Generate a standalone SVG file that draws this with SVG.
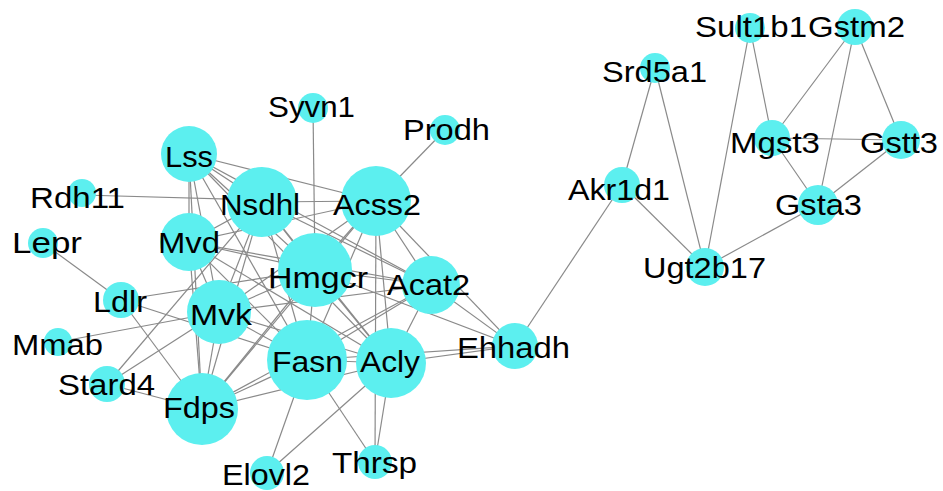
<svg xmlns="http://www.w3.org/2000/svg" width="943" height="491" viewBox="0 0 943 491">
  <style>
    .edge { stroke: #8a8a8a; stroke-width: 1.2; fill: none; }
    .node circle { fill: #5cefef; }
    .node text { font-family: "Liberation Sans", Arial, sans-serif; font-size: 30px; fill: #000; }
  </style>
  <rect width="943" height="491" fill="#ffffff"/>

  <!-- interactions -->
  <g id="edges" class="edge">
    <!-- cholesterol / lipid core -->
    <line x1="189" y1="154" x2="262" y2="202"/>
    <line x1="189" y1="154" x2="376" y2="201"/>
    <line x1="189" y1="154" x2="189" y2="242"/>
    <line x1="189" y1="154" x2="315" y2="270"/>
    <line x1="189" y1="154" x2="431" y2="285"/>
    <line x1="189" y1="154" x2="219" y2="312"/>
    <line x1="189" y1="154" x2="307" y2="360"/>
    <line x1="189" y1="154" x2="391" y2="363"/>
    <line x1="189" y1="154" x2="202" y2="409"/>
    <line x1="262" y1="202" x2="376" y2="201"/>
    <line x1="262" y1="202" x2="189" y2="242"/>
    <line x1="262" y1="202" x2="315" y2="270"/>
    <line x1="262" y1="202" x2="431" y2="285"/>
    <line x1="262" y1="202" x2="219" y2="312"/>
    <line x1="262" y1="202" x2="307" y2="360"/>
    <line x1="262" y1="202" x2="391" y2="363"/>
    <line x1="262" y1="202" x2="202" y2="409"/>
    <line x1="376" y1="201" x2="189" y2="242"/>
    <line x1="376" y1="201" x2="315" y2="270"/>
    <line x1="376" y1="201" x2="431" y2="285"/>
    <line x1="376" y1="201" x2="219" y2="312"/>
    <line x1="376" y1="201" x2="307" y2="360"/>
    <line x1="376" y1="201" x2="391" y2="363"/>
    <line x1="376" y1="201" x2="202" y2="409"/>
    <line x1="189" y1="242" x2="315" y2="270"/>
    <line x1="189" y1="242" x2="431" y2="285"/>
    <line x1="189" y1="242" x2="219" y2="312"/>
    <line x1="189" y1="242" x2="307" y2="360"/>
    <line x1="189" y1="242" x2="391" y2="363"/>
    <line x1="189" y1="242" x2="202" y2="409"/>
    <line x1="315" y1="270" x2="431" y2="285"/>
    <line x1="315" y1="270" x2="219" y2="312"/>
    <line x1="315" y1="270" x2="307" y2="360"/>
    <line x1="315" y1="270" x2="391" y2="363"/>
    <line x1="315" y1="270" x2="202" y2="409"/>
    <line x1="431" y1="285" x2="219" y2="312"/>
    <line x1="431" y1="285" x2="307" y2="360"/>
    <line x1="431" y1="285" x2="391" y2="363"/>
    <line x1="431" y1="285" x2="202" y2="409"/>
    <line x1="219" y1="312" x2="307" y2="360"/>
    <line x1="219" y1="312" x2="391" y2="363"/>
    <line x1="219" y1="312" x2="202" y2="409"/>
    <line x1="307" y1="360" x2="391" y2="363"/>
    <line x1="307" y1="360" x2="202" y2="409"/>
    <line x1="391" y1="363" x2="202" y2="409"/>
    <!-- peripheral partners -->
    <line x1="313" y1="108" x2="315" y2="270"/>
    <line x1="445" y1="130" x2="376" y2="201"/>
    <line x1="82" y1="195" x2="262" y2="200"/>
    <line x1="43" y1="243" x2="121" y2="300"/>
    <line x1="121" y1="300" x2="315" y2="270"/>
    <line x1="121" y1="300" x2="307" y2="360"/>
    <line x1="121" y1="300" x2="202" y2="409"/>
    <line x1="58" y1="342" x2="219" y2="312"/>
    <line x1="107" y1="384" x2="219" y2="312"/>
    <line x1="107" y1="384" x2="262" y2="202"/>
    <line x1="107" y1="384" x2="202" y2="409"/>
    <line x1="267" y1="473" x2="307" y2="360"/>
    <line x1="267" y1="473" x2="391" y2="363"/>
    <line x1="375" y1="462" x2="307" y2="360"/>
    <line x1="375" y1="462" x2="391" y2="363"/>
    <line x1="375" y1="462" x2="376" y2="201"/>
    <line x1="515" y1="346" x2="391" y2="363"/>
    <line x1="515" y1="346" x2="307" y2="360"/>
    <line x1="515" y1="346" x2="431" y2="285"/>
    <line x1="515" y1="346" x2="315" y2="270"/>
    <line x1="515" y1="346" x2="376" y2="201"/>
    <line x1="515" y1="346" x2="622" y2="185"/>
    <!-- detoxification cluster -->
    <line x1="655" y1="68" x2="622" y2="185"/>
    <line x1="655" y1="68" x2="705" y2="267"/>
    <line x1="622" y1="185" x2="705" y2="267"/>
    <line x1="750" y1="28" x2="705" y2="267"/>
    <line x1="750" y1="28" x2="772" y2="138"/>
    <line x1="855" y1="27" x2="772" y2="138"/>
    <line x1="855" y1="27" x2="818" y2="205"/>
    <line x1="855" y1="27" x2="901" y2="140"/>
    <line x1="772" y1="138" x2="901" y2="140"/>
    <line x1="772" y1="138" x2="818" y2="205"/>
    <line x1="901" y1="140" x2="818" y2="205"/>
    <line x1="818" y1="205" x2="705" y2="267"/>
  </g>

  <!-- genes -->
  <g id="n-Syvn1" class="node"><circle cx="313" cy="108" r="15"/><text x="268" y="117" textLength="87" lengthAdjust="spacingAndGlyphs">Syvn1</text></g>
  <g id="n-Prodh" class="node"><circle cx="445" cy="130" r="15"/><text x="403" y="140" textLength="87" lengthAdjust="spacingAndGlyphs">Prodh</text></g>
  <g id="n-Lss" class="node"><circle cx="189" cy="154" r="28"/><text x="165" y="167" textLength="48" lengthAdjust="spacingAndGlyphs">Lss</text></g>
  <g id="n-Rdh11" class="node"><circle cx="82" cy="193" r="14"/><text x="30" y="208" textLength="95" lengthAdjust="spacingAndGlyphs">Rdh11</text></g>
  <g id="n-Nsdhl" class="node"><circle cx="262" cy="202" r="35"/><text x="220" y="215" textLength="80" lengthAdjust="spacingAndGlyphs">Nsdhl</text></g>
  <g id="n-Acss2" class="node"><circle cx="376" cy="201" r="35"/><text x="333" y="215" textLength="88" lengthAdjust="spacingAndGlyphs">Acss2</text></g>
  <g id="n-Lepr" class="node"><circle cx="43" cy="243" r="15"/><text x="12" y="253" textLength="70" lengthAdjust="spacingAndGlyphs">Lepr</text></g>
  <g id="n-Mvd" class="node"><circle cx="189" cy="242" r="29"/><text x="158" y="253" textLength="62" lengthAdjust="spacingAndGlyphs">Mvd</text></g>
  <g id="n-Hmgcr" class="node"><circle cx="315" cy="270" r="37"/><text x="268" y="288" textLength="100" lengthAdjust="spacingAndGlyphs">Hmgcr</text></g>
  <g id="n-Acat2" class="node"><circle cx="431" cy="285" r="29"/><text x="387" y="295" textLength="83" lengthAdjust="spacingAndGlyphs">Acat2</text></g>
  <g id="n-Ldlr" class="node"><circle cx="121" cy="300" r="18"/><text x="93" y="312" textLength="54" lengthAdjust="spacingAndGlyphs">Ldlr</text></g>
  <g id="n-Mvk" class="node"><circle cx="219" cy="312" r="32"/><text x="190" y="325" textLength="62" lengthAdjust="spacingAndGlyphs">Mvk</text></g>
  <g id="n-Mmab" class="node"><circle cx="58" cy="342" r="14"/><text x="12" y="355" textLength="91" lengthAdjust="spacingAndGlyphs">Mmab</text></g>
  <g id="n-Stard4" class="node"><circle cx="107" cy="384" r="18"/><text x="58" y="395" textLength="97" lengthAdjust="spacingAndGlyphs">Stard4</text></g>
  <g id="n-Fasn" class="node"><circle cx="307" cy="360" r="40"/><text x="272" y="372" textLength="71" lengthAdjust="spacingAndGlyphs">Fasn</text></g>
  <g id="n-Acly" class="node"><circle cx="391" cy="363" r="35"/><text x="360" y="372" textLength="60" lengthAdjust="spacingAndGlyphs">Acly</text></g>
  <g id="n-Fdps" class="node"><circle cx="202" cy="409" r="36"/><text x="163" y="418" textLength="72" lengthAdjust="spacingAndGlyphs">Fdps</text></g>
  <g id="n-Ehhadh" class="node"><circle cx="515" cy="346" r="23"/><text x="457" y="358" textLength="113" lengthAdjust="spacingAndGlyphs">Ehhadh</text></g>
  <g id="n-Elovl2" class="node"><circle cx="267" cy="473" r="17"/><text x="222" y="485" textLength="88" lengthAdjust="spacingAndGlyphs">Elovl2</text></g>
  <g id="n-Thrsp" class="node"><circle cx="375" cy="462" r="17"/><text x="332" y="473" textLength="85" lengthAdjust="spacingAndGlyphs">Thrsp</text></g>
  <g id="n-Srd5a1" class="node"><circle cx="655" cy="68" r="15"/><text x="602" y="82" textLength="105" lengthAdjust="spacingAndGlyphs">Srd5a1</text></g>
  <g id="n-Sult1b1" class="node"><circle cx="750" cy="28" r="15"/><text x="695" y="37" textLength="112" lengthAdjust="spacingAndGlyphs">Sult1b1</text></g>
  <g id="n-Gstm2" class="node"><circle cx="855" cy="27" r="18"/><text x="808" y="37" textLength="97" lengthAdjust="spacingAndGlyphs">Gstm2</text></g>
  <g id="n-Mgst3" class="node"><circle cx="772" cy="138" r="18"/><text x="730" y="153" textLength="90" lengthAdjust="spacingAndGlyphs">Mgst3</text></g>
  <g id="n-Gstt3" class="node"><circle cx="901" cy="140" r="19"/><text x="860" y="153" textLength="78" lengthAdjust="spacingAndGlyphs">Gstt3</text></g>
  <g id="n-Akr1d1" class="node"><circle cx="622" cy="185" r="18"/><text x="568" y="200" textLength="102" lengthAdjust="spacingAndGlyphs">Akr1d1</text></g>
  <g id="n-Gsta3" class="node"><circle cx="818" cy="205" r="20"/><text x="775" y="215" textLength="87" lengthAdjust="spacingAndGlyphs">Gsta3</text></g>
  <g id="n-Ugt2b17" class="node"><circle cx="705" cy="267" r="19"/><text x="643" y="278" textLength="123" lengthAdjust="spacingAndGlyphs">Ugt2b17</text></g>
</svg>
